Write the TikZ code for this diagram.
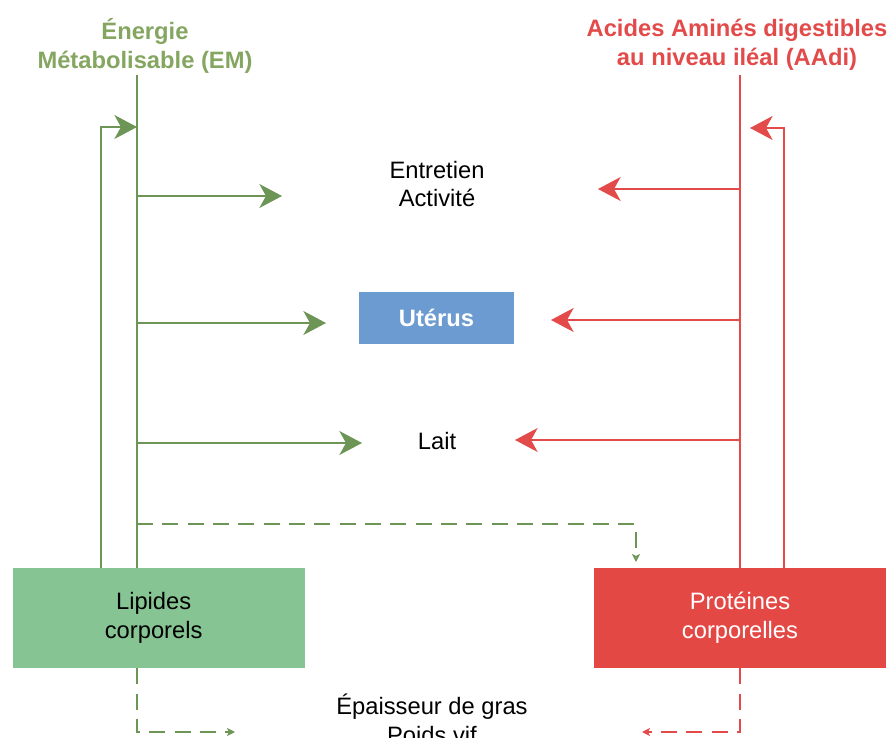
\documentclass[tikz,border=0pt]{standalone}
\usepackage{fontspec}
\setmainfont{Liberation Sans}
\usetikzlibrary{arrows.meta}
\definecolor{gline}{HTML}{6D9556}
\definecolor{gtitle}{HTML}{84A660}
\definecolor{gdash}{HTML}{80C08D}
\definecolor{gfill}{HTML}{87C493}
\definecolor{rline}{HTML}{E34A4A}
\definecolor{rfill}{HTML}{E34845}
\definecolor{bfill}{HTML}{6B9BD0}
\begin{document}
\begin{tikzpicture}[x=0.75pt,y=-0.75pt,
  lbl/.style={font=\fontsize{17.8}{21.5}\selectfont, align=center, inner sep=0pt},
  ttl/.style={font=\fontsize{17.8}{21.8}\selectfont\bfseries, align=center, inner sep=0pt},
  box/.style={draw=none, minimum width=219pt, minimum height=75pt, inner sep=0pt, align=center, font=\fontsize{17.8}{21.5}\selectfont},
  bigtip/.tip={Stealth[length=17pt,width=18pt,inset=5pt]},
  smalltip/.tip={Stealth[length=6pt,width=6pt,inset=1.5pt]},
  gl/.style={draw=gline, line width=1pt},
  rl/.style={draw=rline, line width=1pt},
  ga/.style={gl, -{bigtip[fill=gline]}},
  ra/.style={rl, -{bigtip[fill=rline]}},
  gd/.style={draw=gline, line width=1pt, dash pattern=on 12pt off 7pt},
  rd/.style={draw=rline, line width=1pt, dash pattern=on 12pt off 7pt}
]
\useasboundingbox (0,0) rectangle (894,738);

% titles
\node[ttl, text=gtitle] (gtitle) at (145,46) {Énergie\\Métabolisable (EM)};
\node[ttl, text=rline] (rtitle) at (737,45) {Acides Aminés digestibles\\au niveau iléal (AAdi)};

% boxes
\node[box, fill=gfill, text=black] (lip) at (159,618) {\hspace*{-8pt}Lipides\\\hspace*{-8pt}corporels};
\node[box, fill=rfill, text=white] (pro) at (740,618) {Protéines\\corporelles};
\node[box, fill=bfill, text=white, minimum width=116.25pt, minimum height=39pt, font=\fontsize{17.8}{21.5}\selectfont\bfseries] (ute) at (436.5,318) {Utérus};

% texts
\node[lbl] (ent) at (437,184) {Entretien\\Activité};
\node[lbl] (lait) at (437,441) {Lait};
\node[lbl] (epa) at (432,719) {Épaisseur de gras\\Poids vif};

% coordinates
\coordinate (gtop) at (137,75);
\coordinate (rtop) at (740,75);
\coordinate (gfb) at (101,0);
\coordinate (rfb) at (784,0);
\coordinate (gin) at (137,127);
\coordinate (rin) at (750,128);
\coordinate (ge1) at (282,196);
\coordinate (ge2) at (326,323);
\coordinate (ge3) at (362,443);
\coordinate (re1) at (598,189);
\coordinate (re2) at (551,320);
\coordinate (re3) at (515,440);
\coordinate (gdy) at (0,524);
\coordinate (gdx) at (636,562);
\coordinate (gde) at (235,732);
\coordinate (rde) at (642,732);

% green
\draw[gl] (gtop) -- (gtop |- lip.north);
\draw[ga] (gfb |- lip.north) |- (gin);
\draw[ga] (gtop |- ge1) -- (ge1);
\draw[ga] (gtop |- ge2) -- (ge2);
\draw[ga] (gtop |- ge3) -- (ge3);
\draw[gd, -{smalltip[fill=gdash]}] (gtop |- gdy) -| (gdx);
\draw[gd, -{smalltip[fill=gline]}] (gtop |- lip.south) |- (gde);

% red
\draw[rl] (rtop) -- (rtop |- pro.north);
\draw[ra] (rfb |- pro.north) |- (rin);
\draw[ra] (rtop |- re1) -- (re1);
\draw[ra] (rtop |- re2) -- (re2);
\draw[ra] (rtop |- re3) -- (re3);
\draw[rd, -{smalltip[fill=rline]}] (rtop |- pro.south) |- (rde);
\end{tikzpicture}
\end{document}
